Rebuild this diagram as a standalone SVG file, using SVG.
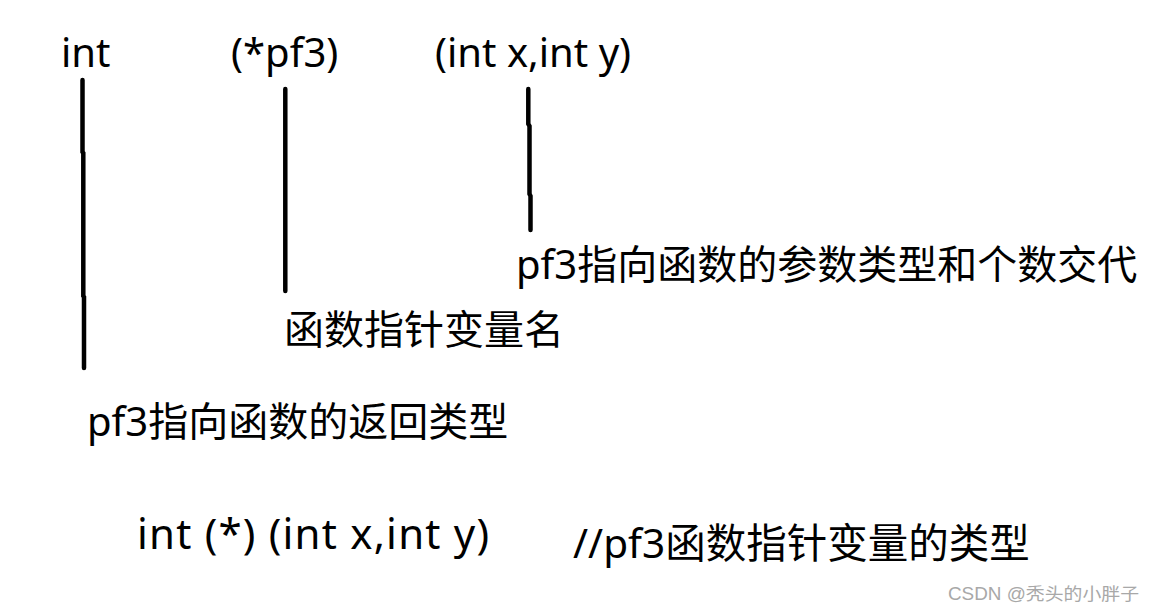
<svg xmlns="http://www.w3.org/2000/svg" width="1154" height="612" viewBox="0 0 1154 612">
<style>
.t{font-family:"Noto Sans","Noto Sans CJK SC",sans-serif;font-size:40px;fill:#000}
.ln{stroke:#000;stroke-width:4.5;stroke-linecap:round;fill:none}
.wm{font-family:"Liberation Sans","Noto Sans CJK SC",sans-serif;font-size:17.5px;fill:#a8a8a8}
</style>
<rect width="1154" height="612" fill="#fff"/>
<g id="code-int"><text class="t" x="61" y="67">int</text></g>
<g id="code-pf3"><text class="t" x="231" y="67">(*pf3)</text></g>
<g id="code-params"><text class="t" x="435" y="67">(int x,int y)</text></g>
<g id="label-params"><text class="t" x="516" y="279">pf3指向函数的参数类型和个数交代</text></g>
<g id="label-name"><text class="t" x="284" y="344">函数指针变量名</text></g>
<g id="label-return"><text class="t" x="87" y="436">pf3指向函数的返回类型</text></g>
<g id="type-line"><text class="t" x="137" y="549" style="font-size:42px" textLength="352" lengthAdjust="spacing">int (*) (int x,int y)</text></g>
<g id="type-comment"><text class="t" x="573" y="558" style="font-size:40.5px">//pf3函数指针变量的类型</text></g>
<g id="connectors">
<polyline class="ln" points="82.5,80 82.5,152 83.3,153 83.3,296 84,297 84,368"/>
<line class="ln" x1="285.3" y1="89" x2="285.3" y2="291"/>
<polyline class="ln" points="528.3,89 528.3,124 529.5,126 529.5,194 530.5,196 530.5,230"/>
</g>
<text class="wm" x="948" y="600" textLength="191" lengthAdjust="spacingAndGlyphs">CSDN @秃头的小胖子</text>
</svg>
